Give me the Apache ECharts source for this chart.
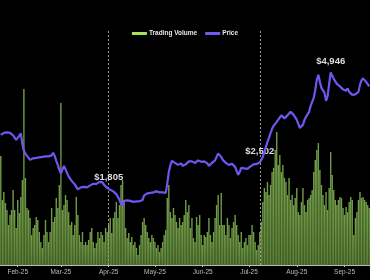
<!DOCTYPE html>
<html><head><meta charset="utf-8">
<script src="https://cdn.jsdelivr.net/npm/echarts@6/dist/echarts.min.js"></script>
<style>html,body{margin:0;padding:0;background:#000;}#c{width:370px;height:280px;}</style>
</head><body><div id="c"></div>
<script>
const START_DATE = '2025-01-21';
const VOLUME = [
46.6,27.8,31.2,26.5,23.5,17.1,21.4,23.5,32.1,23.5,
15.8,27.8,22.2,29.1,36.3,75.2,37.2,24.4,23.5,20.1,
12.8,15.8,17.1,20.5,19.2,14.1,9.8,7.3,12.8,19.2,
14.1,9.8,14.1,24.4,18.4,20.5,28.6,24.4,34.2,69.2,
23.5,25.6,29.9,27.8,22.6,17.1,18.4,12.8,17.1,29.1,
21.4,12.8,9.8,14.1,8.5,9.8,8.5,10.7,14.1,15.8,
9.8,7.3,9.4,14.1,11.5,14.1,12.8,9.8,15.8,14.1,
17.1,20.1,13.7,20.1,22.6,26.9,20.1,25.6,34.2,36.3,
27.8,15.8,11.5,13.7,9.8,12.0,8.5,9.8,7.3,4.3,
8.5,12.8,18.4,20.1,17.1,14.1,11.5,9.8,12.8,11.5,
9.8,7.3,8.5,5.6,7.3,9.8,12.8,15.0,28.6,34.2,
22.6,20.1,24.4,21.4,18.4,15.8,20.1,17.1,18.4,21.4,
27.8,22.6,25.6,15.8,20.1,11.5,9.8,20.5,17.1,21.4,
12.8,8.5,12.8,12.0,14.1,20.1,12.8,9.8,14.1,20.1,
25.6,29.9,17.1,30.8,17.1,17.1,12.8,20.1,17.1,11.5,
15.8,18.4,21.4,17.1,12.8,9.8,14.1,7.3,9.8,11.5,
8.5,12.8,12.8,17.1,14.1,9.8,6.4,8.5,14.1,18.4,
26.9,32.9,31.2,35.5,29.9,34.2,39.7,41.5,49.1,56.8,
42.7,47.0,39.7,42.7,37.2,35.5,29.9,37.2,27.8,29.9,
25.6,28.6,32.9,22.6,21.4,26.9,32.9,25.6,22.6,27.8,
28.6,29.9,32.1,39.7,44.9,49.1,52.1,40.6,34.2,29.9,
25.6,31.2,23.5,32.9,48.3,38.5,32.1,27.8,25.6,27.8,
29.1,28.6,24.4,21.4,24.8,22.6,26.9,29.1,27.8,12.8,
20.1,22.6,27.8,31.2,28.6,29.1,27.8,26.9,25.6,24.4
];
const PRICE = [
3251,3279,3306,3292,3319,3319,3306,3279,3238,3211,
3116,3102,3224,3292,3007,2817,2736,2681,2627,2573,
2573,2614,2600,2627,2614,2641,2627,2654,2641,2668,
2654,2668,2654,2695,2763,2681,2546,2437,2301,2206,
2247,2410,2424,2220,2125,2084,2003,1949,1908,1840,
1772,1786,1827,1813,1840,1813,1827,1854,1881,1894,
1922,1949,1922,1935,1976,1989,1962,1894,1854,1813,
1805,1759,1745,1718,1704,1637,1569,1487,1379,1324,
1460,1447,1474,1447,1460,1447,1433,1460,1447,1433,
1447,1433,1487,1609,1637,1664,1664,1677,1704,1691,
1704,1718,1704,1691,1704,1691,1677,1677,1922,2247,
2424,2546,2559,2491,2532,2437,2396,2478,2410,2410,
2451,2491,2532,2546,2532,2478,2491,2532,2559,2573,
2519,2505,2532,2519,2478,2410,2464,2491,2519,2559,
2654,2749,2736,2654,2573,2532,2491,2464,2437,2451,
2464,2451,2383,2274,2166,2247,2356,2369,2342,2356,
2329,2369,2396,2410,2451,2478,2464,2491,2502,2573,
2654,2776,2926,3061,3170,3306,3414,3496,3550,3604,
3658,3726,3781,3740,3699,3740,3781,3835,3876,3849,
3794,3740,3658,3550,3441,3401,3523,3658,3740,3794,
3876,4038,4147,4256,4473,4744,4880,4690,4527,4554,
4391,4174,4310,4636,4946,4853,4771,4758,4636,4649,
4568,4527,4486,4513,4446,4513,4418,4364,4337,4337,
4351,4364,4418,4608,4730,4785,4758,4690,4636,4568
];
const LINE_DATES = ['2025-04-01', '2025-07-08'];
const LABEL_DATES = ['2025-04-01', '2025-07-08', '2025-08-23'];
const MONTHS = ['Jan','Feb','Mar','Apr','May','Jun','Jul','Aug','Sep','Oct','Nov','Dec'];

const dates = [];
const t0 = Date.parse(START_DATE + 'T00:00:00Z');
for (let i = 0; i < PRICE.length; i++) {
  dates.push(new Date(t0 + i * 86400000).toISOString().slice(0, 10));
}
const FONT = 'Liberation Sans, Arial, sans-serif';
const fmt = v => '$' + Number(v).toLocaleString('en-US');

const chart = echarts.init(document.getElementById('c'), null, {renderer: 'canvas'});
chart.setOption({
  backgroundColor: '#000',
  animation: false,
  legend: {
    top: 25, left: 'center', itemWidth: 15, itemHeight: 3, itemGap: 8,
    textStyle: {color: '#e8e8e8', fontSize: 6.5, fontFamily: FONT, fontWeight: 'bold', padding: [0,0,0,-3]},
    data: [
      {name: 'Trading Volume', icon: 'rect', itemStyle: {color: '#a6e35a', opacity: 1}},
      {name: 'Price', icon: 'rect', itemStyle: {color: '#6d5ae8'}}
    ]
  },
  grid: {left: 0, right: 0, top: 31, bottom: 15, containLabel: false},
  xAxis: {
    type: 'category', data: dates, boundaryGap: true,
    axisLine: {lineStyle: {color: '#bbb', width: 1}},
    axisTick: {show: true, length: 2, alignWithLabel: true, lineStyle: {color: '#bbb'},
      interval: (i, v) => v.slice(8) === '01'},
    axisLabel: {
      interval: (i, v) => v.slice(8) === '01',
      color: '#bbb', fontSize: 6.5, fontFamily: FONT, margin: 4,
      formatter: v => MONTHS[+v.slice(5, 7) - 1] + '-' + v.slice(2, 4)
    },
    splitLine: {show: false}
  },
  yAxis: [
    {type: 'value', min: 0, max: 100, show: false, splitLine: {show: false}},
    {type: 'value', min: -280, max: 6070, show: false, splitLine: {show: false}}
  ],
  series: [
    {
      name: 'Trading Volume', type: 'bar', yAxisIndex: 0, data: VOLUME,
      barCategoryGap: '8%',
      itemStyle: {color: new echarts.graphic.LinearGradient(0, 0, 0, 1, [
        {offset: 0, color: 'rgba(135,185,85,0.85)'},
        {offset: 1, color: 'rgba(105,150,62,0.85)'}
      ])}
    },
    {
      name: 'Price', type: 'line', yAxisIndex: 1, data: PRICE, z: 5,
      symbol: 'none', smooth: false,
      lineStyle: {color: '#7255f0', width: 2.2},
      itemStyle: {color: '#7255f0'},
      markLine: {
        silent: true, symbol: 'none', label: {show: false},
        lineStyle: {color: '#999', type: [2, 2], width: 1},
        data: LINE_DATES.map(d => ({xAxis: d}))
      },
      markPoint: {
        symbol: 'circle', symbolSize: 0,
        label: {show: true, position: 'top', distance: 6, color: '#ddd', fontSize: 9.5,
          fontWeight: 'bold', fontFamily: FONT, formatter: p => fmt(p.value)},
        data: LABEL_DATES.map(d => {
          const i = dates.indexOf(d);
          return {coord: [d, PRICE[i]], value: PRICE[i]};
        })
      }
    }
  ]
});
</script></body></html>
